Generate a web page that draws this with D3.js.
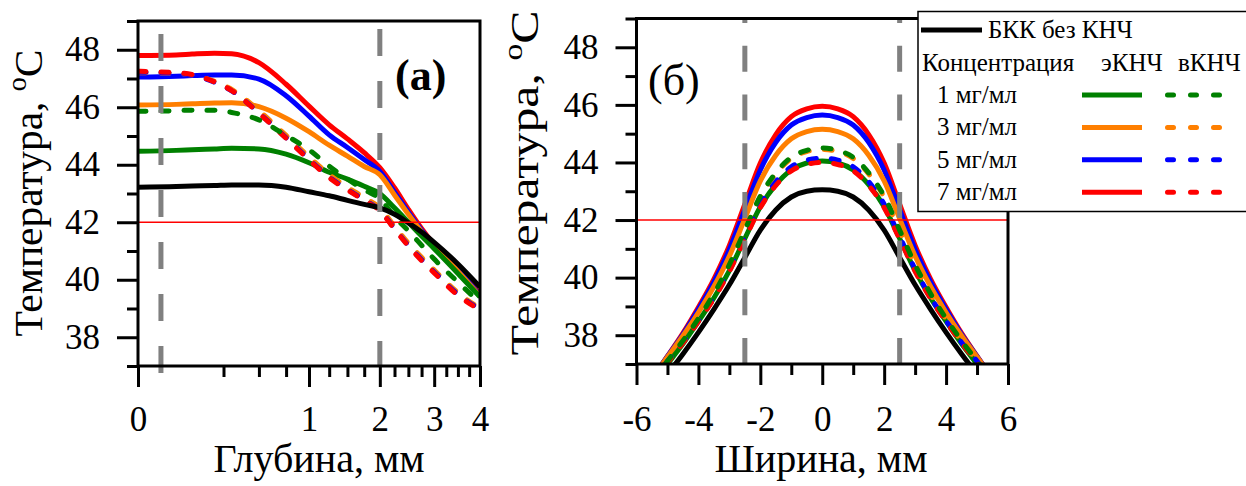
<!DOCTYPE html>
<html>
<head>
<meta charset="utf-8">
<script src="https://cdn.jsdelivr.net/npm/d3@7"></script>
<style>
  body { margin: 0; background: #fff; }
  svg text { font-family: "Liberation Serif", "Times New Roman", serif; }
</style>
</head>
<body>
<svg id="chart" width="1246" height="486"></svg>
<script>
// ---- data ----
// (a) temperature vs depth, mm
const depth = [0, 0.05, 0.1, 0.2, 0.3, 0.5, 0.75, 1, 1.25, 1.5, 1.75, 2, 2.25, 2.5, 2.75, 3, 3.5, 4];
const depthBase = [43.22, 43.24, 43.26, 43.28, 43.3, 43.3, 43.22, 43.06, 42.92, 42.76, 42.62, 42.5, 42.28, 41.98, 41.66, 41.3, 40.55, 39.75];
const depthE1 = [44.47, 44.5, 44.52, 44.55, 44.57, 44.55, 44.37, 44.07, 43.74, 43.5, 43.25, 43.0, 42.5, 42.0, 41.52, 41.08, 40.22, 39.4];
const depthE3 = [46.08, 46.1, 46.12, 46.15, 46.16, 46.02, 45.62, 45.15, 44.68, 44.3, 43.94, 43.65, 42.95, 42.28, 41.68, 41.14, 40.3, 39.42];
const depthE5 = [47.05, 47.08, 47.1, 47.12, 47.12, 46.98, 46.4, 45.69, 45.04, 44.6, 44.18, 43.77, 43.05, 42.35, 41.72, 41.18, 40.35, 39.45];
const depthE7 = [47.8, 47.82, 47.85, 47.88, 47.86, 47.55, 46.8, 46.04, 45.39, 44.9, 44.42, 43.9, 43.2, 42.45, 41.78, 41.22, 40.4, 39.5];
const depthV1 = [45.86, 45.88, 45.9, 45.9, 45.82, 45.56, 45.02, 44.52, 43.95, 43.5, 43.13, 42.82, 42.2, 41.7, 41.2, 40.72, 39.92, 39.2];
const depthV3 = [47.2, 47.17, 47.12, 46.9, 46.62, 45.88, 45.02, 44.28, 43.66, 43.22, 42.86, 42.5, 41.86, 41.27, 40.78, 40.34, 39.55, 39.0];
const depthV5 = [47.22, 47.18, 47.12, 46.87, 46.57, 45.8, 44.94, 44.19, 43.57, 43.14, 42.78, 42.42, 41.78, 41.19, 40.7, 40.27, 39.49, 38.97];
const depthV7 = [47.25, 47.2, 47.14, 46.88, 46.58, 45.79, 44.92, 44.17, 43.55, 43.12, 42.76, 42.4, 41.76, 41.17, 40.67, 40.24, 39.46, 38.95];

// (б) temperature vs width, mm
const widthMm = [-5.5, -5, -4.5, -4, -3.5, -3, -2.5, -2, -1.5, -1, -0.5, 0, 0.5, 1, 1.5, 2, 2.5, 3, 3.5, 4, 4.5, 5, 5.5];
const widthBase = [36.0, 36.65, 37.35, 38.1, 38.9, 39.75, 40.7, 41.65, 42.35, 42.8, 43.0, 43.05, 43.0, 42.8, 42.35, 41.65, 40.7, 39.75, 38.9, 38.1, 37.35, 36.65, 36.0];
const widthE1 = [36.3, 37.0, 37.7, 38.48, 39.29, 40.24, 41.36, 42.46, 43.23, 43.74, 43.98, 44.05, 43.98, 43.74, 43.23, 42.46, 41.36, 40.24, 39.29, 38.48, 37.7, 37.0, 36.3];
const widthE3 = [36.5, 37.24, 37.98, 38.79, 39.69, 40.75, 42.05, 43.36, 44.25, 44.82, 45.07, 45.15, 45.07, 44.82, 44.25, 43.36, 42.05, 40.75, 39.69, 38.79, 37.98, 37.24, 36.5];
const widthE5 = [36.5, 37.26, 38.03, 38.9, 39.85, 40.98, 42.36, 43.74, 44.7, 45.3, 45.56, 45.65, 45.56, 45.3, 44.7, 43.74, 42.36, 40.98, 39.85, 38.9, 38.03, 37.26, 36.5];
const widthE7 = [36.5, 37.27, 38.07, 38.97, 39.95, 41.12, 42.55, 43.98, 44.97, 45.59, 45.86, 45.95, 45.86, 45.59, 44.97, 43.98, 42.55, 41.12, 39.95, 38.97, 38.07, 37.27, 36.5];
const widthV1 = [36.4, 37.1, 37.81, 38.58, 39.44, 40.45, 41.65, 42.83, 43.64, 44.18, 44.42, 44.5, 44.42, 44.18, 43.64, 42.83, 41.65, 40.45, 39.44, 38.58, 37.81, 37.1, 36.4];
const widthV3 = [36.4, 37.1, 37.79, 38.56, 39.42, 40.43, 41.62, 42.79, 43.6, 44.14, 44.38, 44.45, 44.38, 44.14, 43.6, 42.79, 41.62, 40.43, 39.42, 38.56, 37.79, 37.1, 36.4];
const widthV5 = [36.4, 37.1, 37.75, 38.5, 39.32, 40.29, 41.43, 42.55, 43.33, 43.85, 44.08, 44.15, 44.08, 43.85, 43.33, 42.55, 41.43, 40.29, 39.32, 38.5, 37.75, 37.1, 36.4];
const widthV7 = [36.35, 37.05, 37.73, 38.47, 39.27, 40.22, 41.34, 42.43, 43.2, 43.71, 43.93, 44.0, 43.93, 43.71, 43.2, 42.43, 41.34, 40.22, 39.27, 38.47, 37.73, 37.05, 36.35];

// ticks and reference lines
const tempMajor = [38, 40, 42, 44, 46, 48];
const tempMinor = [37, 39, 41, 43, 45, 47, 49];
const depthMajor = [0, 1, 2, 3, 4];
const depthMinor = [0.25, 0.5, 0.75, 1.25, 1.5, 1.75, 2.25, 2.5, 2.75, 3.25, 3.5, 3.75];
const widthMajor = [-6, -4, -2, 0, 2, 4, 6];
const widthMinor = [-5, -3, -1, 1, 3, 5];
const threshold = 42;
const depthMarks = [0.018, 2];
const widthMarks = [-2.5, 2.5];
const concLabels = ["1 мг/мл", "3 мг/мл", "5 мг/мл", "7 мг/мл"];
const concColors = ["#008000", "#ff7f00", "#0000ff", "#ff0000"];

const FONT = "'Liberation Serif', 'Times New Roman', serif";
const svg = d3.select("#chart");
const dotted = "8,15";

function drawPanel(id, x, y, xs, series, xMajor, xMinor, xLabelPad, marks, markDash) {
  const [x0, x1] = x.range();
  const [y0, y1] = y.range();
  const g = svg.append("g");

  g.append("clipPath").attr("id", id)
    .append("rect").attr("x", x0).attr("y", y1).attr("width", x1 - x0).attr("height", y0 - y1);

  const plot = g.append("g").attr("clip-path", "url(#" + id + ")");
  const line = d3.line().curve(d3.curveMonotoneX);

  series.forEach(s => {
    plot.append("path")
      .attr("d", line(xs.map((v, i) => [x(v), y(s.values[i])])))
      .attr("fill", "none")
      .attr("stroke", s.color)
      .attr("stroke-width", 5)
      .attr("stroke-linecap", s.dash ? "round" : "butt")
      .attr("stroke-dasharray", s.dash ? dotted : null);
  });

  // 42 °C line
  plot.append("line")
    .attr("x1", x0).attr("x2", x1)
    .attr("y1", y(threshold)).attr("y2", y(threshold))
    .attr("stroke", "#ff0000").attr("stroke-width", 1.5);

  // gray dashed markers
  marks.forEach(m => {
    g.append("line")
      .attr("x1", x(m.v)).attr("x2", x(m.v))
      .attr("y1", m.from).attr("y2", m.to)
      .attr("stroke", "#808080").attr("stroke-width", 5)
      .attr("stroke-dasharray", markDash);
  });

  // frame
  g.append("rect")
    .attr("x", x0).attr("y", y1).attr("width", x1 - x0).attr("height", y0 - y1)
    .attr("fill", "none").attr("stroke", "#000").attr("stroke-width", 3);

  const styleAxis = a => {
    a.select(".domain").remove();
    a.selectAll(".tick line").attr("stroke", "#000").attr("stroke-width", 3);
    a.selectAll("text").attr("fill", "#000").attr("font-family", FONT);
    a.attr("font-family", FONT).attr("font-size", 35);
  };

  g.append("g").attr("transform", "translate(0," + y0 + ")")
    .call(d3.axisBottom(x).tickValues(xMajor).tickSize(21).tickPadding(xLabelPad).tickFormat(d => String(d)))
    .call(styleAxis);
  g.append("g").attr("transform", "translate(0," + y0 + ")")
    .call(d3.axisBottom(x).tickValues(xMinor).tickSize(11).tickFormat(""))
    .call(styleAxis);
  g.append("g").attr("transform", "translate(" + x0 + ",0)")
    .call(d3.axisLeft(y).tickValues(tempMajor).tickSize(21).tickPadding(17).tickFormat(d => String(d)))
    .call(styleAxis);
  g.append("g").attr("transform", "translate(" + x0 + ",0)")
    .call(d3.axisLeft(y).tickValues(tempMinor).tickSize(11).tickFormat(""))
    .call(styleAxis);
  return g;
}

function seriesSet(base, e, v) {
  return [
    {values: e[3], color: concColors[3]},
    {values: e[2], color: concColors[2]},
    {values: e[1], color: concColors[1]},
    {values: e[0], color: concColors[0]},
    {values: v[1], color: concColors[1], dash: true},
    {values: v[2], color: concColors[2], dash: true},
    {values: v[3], color: concColors[3], dash: true},
    {values: v[0], color: concColors[0], dash: true},
    {values: base, color: "#000"}
  ];
}

// ---- panel (a) ----
const xa = d3.scaleSqrt().domain([0, 4]).range([138, 480]);
const ya = d3.scaleLinear().domain([37, 49]).range([366, 21]);
drawPanel("clipA", xa, ya, depth,
  seriesSet(depthBase, [depthE1, depthE3, depthE5, depthE7], [depthV1, depthV3, depthV5, depthV7]),
  depthMajor, depthMinor, 19,
  [{v: depthMarks[0], from: 34, to: 373}, {v: depthMarks[1], from: 29, to: 367}], "27,25");

// ---- panel (б) ----
const xb = d3.scaleLinear().domain([-6, 6]).range([636.5, 1008]);
const yb = d3.scaleLinear().domain([37, 49]).range([364, 18.5]);
drawPanel("clipB", xb, yb, widthMm,
  seriesSet(widthBase, [widthE1, widthE3, widthE5, widthE7], [widthV1, widthV3, widthV5, widthV7]),
  widthMajor, widthMinor, 21,
  [{v: widthMarks[0], from: 364, to: 17}, {v: widthMarks[1], from: 364, to: 17}], "26,22.7");

// ---- titles ----
svg.append("text").attr("x", 319).attr("y", 472).attr("text-anchor", "middle")
  .attr("font-family", FONT).attr("font-size", 40).text("Глубина, мм");
svg.append("text").attr("x", 821).attr("y", 472).attr("text-anchor", "middle")
  .attr("font-family", FONT).attr("font-size", 40).text("Ширина, мм");

function yTitle(cx, cy, len) {
  const t = svg.append("text")
    .attr("transform", "translate(" + cx + "," + cy + ") rotate(-90)")
    .attr("text-anchor", "middle").attr("font-family", FONT).attr("font-size", 40)
    .attr("textLength", len).attr("lengthAdjust", "spacingAndGlyphs");
  t.append("tspan").text("Температура, ");
  t.append("tspan").attr("font-size", 27).attr("dy", -16).text("o");
  t.append("tspan").attr("dy", 16).text("C");
}
yTitle(42, 193, 287);
yTitle(538, 183, 345);

svg.append("text").attr("x", 395).attr("y", 90).attr("font-family", FONT).attr("font-size", 44)
  .attr("font-weight", "bold").text("(a)");
svg.append("text").attr("x", 648).attr("y", 95).attr("font-family", FONT).attr("font-size", 44).text("(б)");

// ---- legend ----
const leg = svg.append("g").attr("font-family", FONT).attr("font-size", 25);
leg.append("rect").attr("x", 918).attr("y", 11.5).attr("width", 340).attr("height", 200)
  .attr("fill", "#fff").attr("stroke", "#000").attr("stroke-width", 1.5);
leg.append("line").attr("x1", 921).attr("x2", 982).attr("y1", 30).attr("y2", 30)
  .attr("stroke", "#000").attr("stroke-width", 5);
leg.append("text").attr("x", 988).attr("y", 38).text("БКК без КНЧ");
leg.append("text").attr("x", 922).attr("y", 71).text("Концентрация");
leg.append("text").attr("x", 1101).attr("y", 71).text("эКНЧ");
leg.append("text").attr("x", 1178).attr("y", 71).text("вКНЧ");

concLabels.forEach((lab, i) => {
  const yy = 95 + i * 32.4;
  leg.append("text").attr("x", 937).attr("y", yy + 8).text(lab);
  leg.append("line").attr("x1", 1082).attr("x2", 1142).attr("y1", yy).attr("y2", yy)
    .attr("stroke", concColors[i]).attr("stroke-width", 5);
  leg.append("line").attr("x1", 1167.5).attr("x2", 1224).attr("y1", yy).attr("y2", yy)
    .attr("stroke", concColors[i]).attr("stroke-width", 5)
    .attr("stroke-linecap", "round").attr("stroke-dasharray", "6,17");
});
</script>
</body>
</html>
